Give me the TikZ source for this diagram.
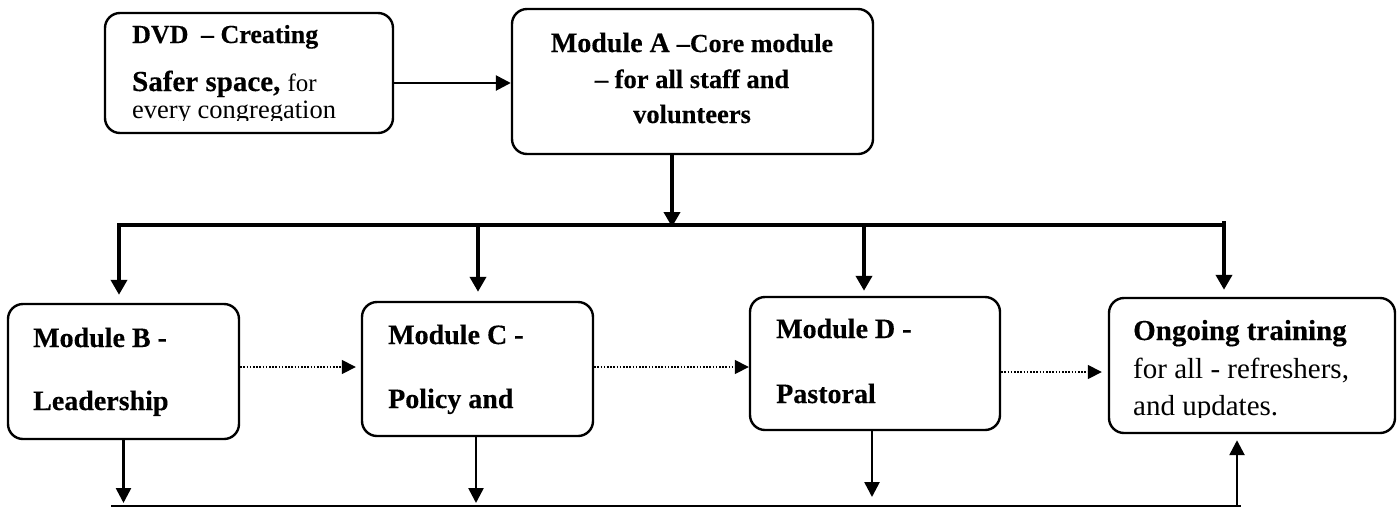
\documentclass[tikz,border=0pt]{standalone}
\usepackage{fontspec}
\setmainfont{Liberation Serif}[BoldFeatures={FakeBold=0.3}]
\usetikzlibrary{arrows.meta}
\begin{document}
\begin{tikzpicture}[x=1pt,y=-1pt,
        modbox/.style={draw,line width=2.4pt,rounded corners=15pt,inner sep=0pt},
        txt/.style={anchor=base west,inner sep=0pt,font=\fontsize{28}{30}\selectfont\bfseries},
        arr/.style={line width=2.6pt,-{Triangle[length=15pt,width=15pt]}},
        thickarr/.style={line width=3.8pt,-{Triangle[length=15pt,width=16pt]}},
        dotarr/.style={line width=1.6pt,dash pattern=on 1.6pt off 1.6pt,-{Triangle[length=14pt,width=14pt]}}]
            \useasboundingbox (0,0) rectangle (1398,507);
            \node[modbox,minimum width=288pt,minimum height=120pt] (dvd) at (249,73) {};
            \node[modbox,minimum width=361pt,minimum height=145pt] (modA) at (692.5,81.5) {};
            \node[modbox,minimum width=231pt,minimum height=135pt] (modB) at (123.5,371.5) {};
            \node[modbox,minimum width=231pt,minimum height=134pt] (modC) at (477.5,369) {};
            \node[modbox,minimum width=250pt,minimum height=133pt] (modD) at (875,363.5) {};
            \node[modbox,minimum width=286pt,minimum height=135pt] (ongo) at (1252,365.5) {};
            \begin{scope}
                \clip (105,13) rectangle (393,120.5);
                \node[txt,font=\fontsize{26}{28}\selectfont\bfseries] (dvd1) at (132,43) {DVD\hspace{6pt} – Creating};
                \node[txt,font=\fontsize{29}{31}\selectfont\bfseries] (dvd2) at (132,91) {Safer space, \fontsize{25}{27}\selectfont\mdseries for};
                \node[txt,font=\fontsize{26.5}{28}\selectfont] (dvd3) at (132,118) {every congregation};
            \end{scope}
            \node[txt,anchor=base] (modA1) at (692,52) {Module A {\fontsize{26}{28}\selectfont –Core module}};
            \node[txt,anchor=base,font=\fontsize{26.5}{28}\selectfont\bfseries] (modA2) at (692,88) {– for all staff and};
            \node[txt,anchor=base,font=\fontsize{26.5}{28}\selectfont\bfseries] (modA3) at (692,123) {volunteers};
            \node[txt] (modB1) at (33,347) {Module B -};
            \node[txt] (modB2) at (33,410) {Leadership};
            \node[txt] (modC1) at (388,344) {Module C -};
            \node[txt] (modC2) at (388,408) {Policy and};
            \node[txt] (modD1) at (776,338) {Module D -};
            \node[txt] (modD2) at (776,403) {Pastoral};
            \node[txt,font=\fontsize{29}{31}\selectfont\bfseries] (ongo1) at (1133,340) {Ongoing training};
            \begin{scope}
                \clip (1109,298) rectangle (1395,417);
                \node[txt,font=\fontsize{29}{31}\selectfont] (ongo2) at (1133,378) {for all - refreshers,};
                \node[txt,font=\fontsize{29}{31}\selectfont] (ongo3) at (1133,415) {and updates.};
            \end{scope}
            \coordinate (busA) at (672,227);
            \coordinate (busL) at (119,225);
            \coordinate (busC) at (478,225);
            \coordinate (busD) at (864,225);
            \coordinate (busR) at (1224,225);
            \coordinate (botL) at (111,506);
            \coordinate (botU) at (1237,506);
            \coordinate (botR) at (1241,506);
            \draw[arr] ([yshift=-10pt]dvd.east) -- ([yshift=-10pt]dvd.east -| modA.west);
            \draw[thickarr] (modA.south -| busA) -- (busA);
            \draw[thickarr,shorten >=8pt] (busR) -- (busL) -- (busL |- modB.north);
            \draw[thickarr,shorten >=9pt] ([yshift=2pt]busC) -- (busC |- modC.north);
            \draw[thickarr,shorten >=5pt] (busD) -- (busD |- modD.north);
            \draw[thickarr,shorten >=7pt] ([yshift=4pt]busR) -- (busR |- ongo.north);
            \draw[dotarr,shorten >=5pt] ([yshift=4.5pt]modB.east) -- ([yshift=4.5pt]modB.east -| modC.west);
            \draw[dotarr] ([yshift=2pt]modC.east) -- ([yshift=2pt]modC.east -| modD.west);
            \draw[dotarr,shorten >=6pt] ([yshift=-8.5pt]modD.east) -- ([yshift=-8.5pt]modD.east -| ongo.west);
            \draw[line width=2pt] (botL) -- (botR);
            \draw[arr,shorten >=3pt] (modB.south) -- (modB.south |- botL);
            \draw[arr,shorten >=3pt] ([xshift=-1.5pt]modC.south) -- ([xshift=-1.5pt]modC.south |- botL);
            \draw[arr,shorten >=9pt] ([xshift=-3pt]modD.south) -- ([xshift=-3pt]modD.south |- botL);
            \draw[arr,shorten >=6pt] (botU) -- (botU |- ongo.south);
        \end{tikzpicture}
\end{document}
